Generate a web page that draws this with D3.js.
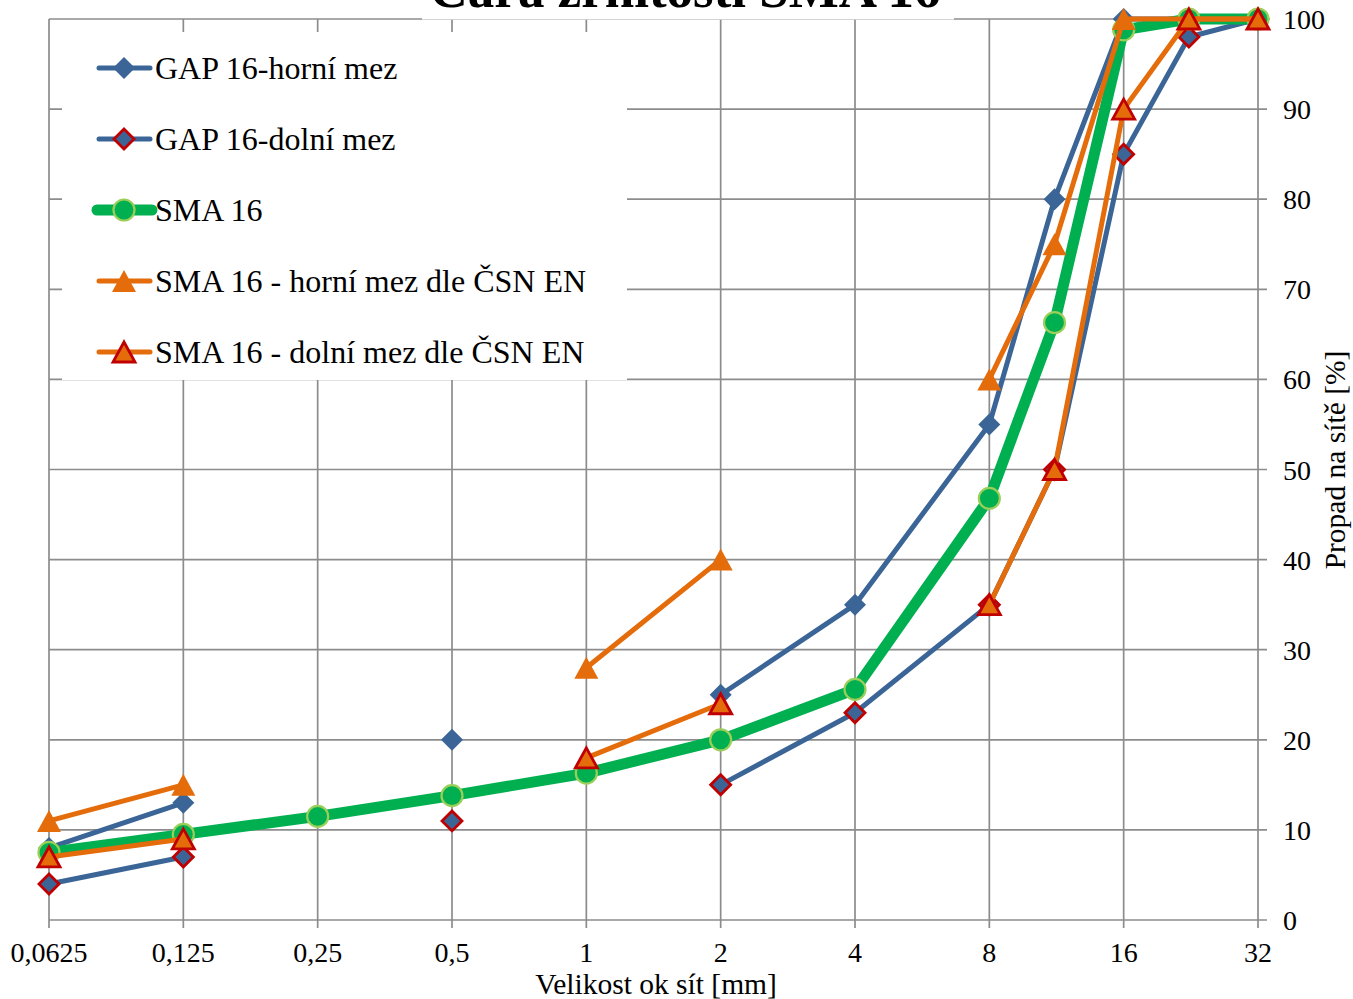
<!DOCTYPE html>
<html><head><meta charset="utf-8">
<script src="https://cdn.jsdelivr.net/npm/d3@7"></script>
<style>
body{margin:0;background:#fff}
svg{display:block}
text{font-family:"Liberation Serif","Times New Roman",serif;fill:#000}
</style>
</head><body><svg id="c" width="1353" height="999"></svg>
<script>
// ---- data ----
const sizes = [0.0625, 0.125, 0.25, 0.5, 1, 2, 4, 8, 11.2, 16, 22.4, 32];
const xTicks = [0.0625, 0.125, 0.25, 0.5, 1, 2, 4, 8, 16, 32];
const xTickLabels = ["0,0625", "0,125", "0,25", "0,5", "1", "2", "4", "8", "16", "32"];
const yTicks = [0, 10, 20, 30, 40, 50, 60, 70, 80, 90, 100];
const gapUpper = [8, 13, null, 20, null, 25, 35, 55, 80, 100, 100, 100];
const gapLower = [4, 7, null, 11, null, 15, 23, 35, 50, 85, 98, 100];
const sma16    = [7.5, 9.5, 11.5, 13.8, 16.3, 20, 25.6, 46.8, 66.3, 98.8, 100, 100];
const smaUpper = [11, 15, null, null, 28, 40, null, 60, 75, 100, 100, 100];
const smaLower = [7, 9, null, null, 18, 24, null, 35, 50, 90, 100, 100];
const seriesNames = ["GAP 16-horní mez", "GAP 16-dolní mez", "SMA 16",
  "SMA 16 - horní mez dle ČSN EN", "SMA 16 - dolní mez dle ČSN EN"];
const title = "Čára zrnitosti SMA 16";
const xTitle = "Velikost ok sít [mm]";
const yTitle = "Propad na sítě [%]";

// ---- styles ----
const BLUE = "#3a6596", RED = "#c00000", GREEN = "#00b050", LGREEN = "#9bcf5a", ORANGE = "#e46c0a";
const diamond = r => `M0,${-r}L${r},0L0,${r}L${-r},0Z`;
const triangle = (w, h) => `M0,${-h/2}L${w/2},${h/2}L${-w/2},${h/2}Z`;
const styles = [
  {values: gapUpper, color: BLUE, width: 5, marker: {type: "path", d: diamond(11), fill: BLUE, stroke: "none", sw: 0}},
  {values: gapLower, color: BLUE, width: 5, marker: {type: "path", d: diamond(10), fill: BLUE, stroke: RED, sw: 2.8}},
  {values: sma16, color: GREEN, width: 11, marker: {type: "circle", r: 10.5, fill: GREEN, stroke: LGREEN, sw: 2.2}},
  {values: smaUpper, color: ORANGE, width: 5, marker: {type: "path", d: triangle(24, 22), fill: ORANGE, stroke: "none", sw: 0}},
  {values: smaLower, color: ORANGE, width: 5, marker: {type: "path", d: triangle(22, 20), fill: ORANGE, stroke: RED, sw: 2.8}}
];

const svg = d3.select("#c");
const L = 49, R = 1258, T = 19, B = 920;
const x = d3.scaleLog().base(2).domain([0.0625, 32]).range([L, R]);
const y = d3.scaleLinear().domain([0, 100]).range([B, T]);
const GRID = "#8c8c8c";

// gridlines
svg.append("g").selectAll("line").data(xTicks).join("line")
  .attr("x1", d => x(d)).attr("x2", d => x(d)).attr("y1", T).attr("y2", B + 8)
  .attr("stroke", GRID).attr("stroke-width", 1.7);
svg.append("g").selectAll("line").data(yTicks).join("line")
  .attr("x1", L).attr("x2", R + 9).attr("y1", d => y(d)).attr("y2", d => y(d))
  .attr("stroke", GRID).attr("stroke-width", 1.7);

// x tick labels
svg.append("g").selectAll("text").data(xTicks).join("text")
  .attr("x", d => x(d)).attr("y", 962).attr("text-anchor", "middle")
  .attr("font-size", 28).text((d, i) => xTickLabels[i]);
// y tick labels
svg.append("g").selectAll("text").data(yTicks).join("text")
  .attr("x", 1283).attr("y", d => y(d) + 10).attr("text-anchor", "start")
  .attr("font-size", 28).text(d => d);

// axis titles
svg.append("text").attr("x", 656).attr("y", 994).attr("text-anchor", "middle")
  .attr("font-size", 29.5).text(xTitle);
svg.append("text").attr("transform", "translate(1345,460) rotate(-90)")
  .attr("text-anchor", "middle").attr("font-size", 29.5).text(yTitle);

// title
svg.append("rect").attr("x", 422).attr("y", 0).attr("width", 532).attr("height", 19.5).attr("fill", "#fff");
svg.append("text").attr("x", 685).attr("y", 7).attr("text-anchor", "middle")
  .attr("font-size", 53).attr("font-weight", "bold").text(title);

// legend background
svg.append("rect").attr("x", 62).attr("y", 32).attr("width", 565).attr("height", 348).attr("fill", "#fff");

// series
const line = d3.line().defined(d => d.v != null).x(d => x(d.s)).y(d => y(d.v));
function drawMarker(g, m) {
  if (m.type === "circle") {
    return g.append("circle").attr("r", m.r).attr("fill", m.fill).attr("stroke", m.stroke).attr("stroke-width", m.sw);
  }
  return g.append("path").attr("d", m.d).attr("fill", m.fill).attr("stroke", m.stroke).attr("stroke-width", m.sw)
    .attr("stroke-linejoin", "miter");
}
styles.forEach(st => {
  const pts = sizes.map((s, i) => ({s, v: st.values[i]}));
  const g = svg.append("g");
  g.append("path").attr("d", line(pts)).attr("fill", "none").attr("stroke", st.color)
    .attr("stroke-width", st.width).attr("stroke-linejoin", "round").attr("stroke-linecap", "round");
  pts.filter(p => p.v != null).forEach(p => {
    const mg = g.append("g").attr("transform", `translate(${x(p.s)},${y(p.v)})`);
    drawMarker(mg, st.marker);
  });
});

// legend
const lg = svg.append("g");
styles.forEach((st, i) => {
  const cy = 68 + i * 71;
  const g = lg.append("g").attr("transform", `translate(0,${cy})`);
  g.append("line").attr("x1", st.width > 6 ? 97 : 99).attr("x2", st.width > 6 ? 152 : 150).attr("y1", 0).attr("y2", 0)
    .attr("stroke", st.color).attr("stroke-width", st.width).attr("stroke-linecap", "round");
  const mg = g.append("g").attr("transform", "translate(124,0)");
  drawMarker(mg, st.marker);
  g.append("text").attr("x", 155).attr("y", 10.5).attr("font-size", 32).text(seriesNames[i]);
});
</script>
</body></html>
